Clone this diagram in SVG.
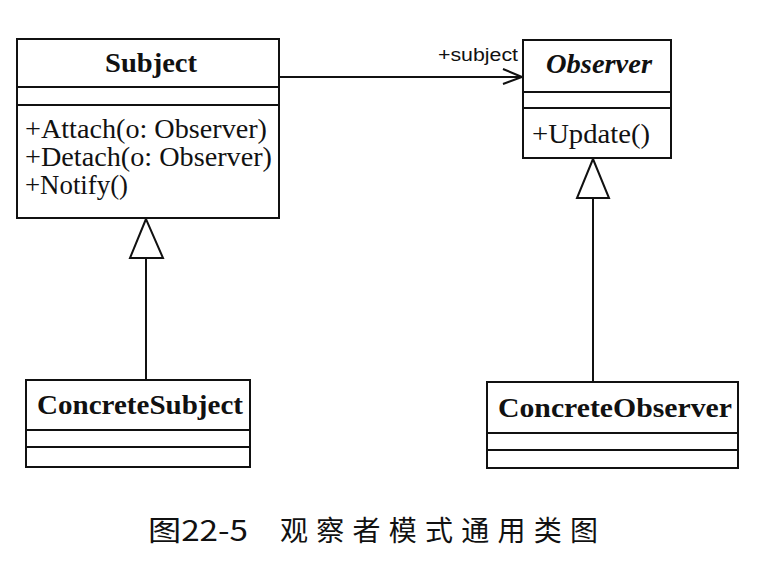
<svg xmlns="http://www.w3.org/2000/svg" width="776" height="586" viewBox="0 0 776 586">
<style>
.box{fill:#fff;stroke:#111;stroke-width:2}
.div{stroke:#111;stroke-width:2}
.name{font-family:"Liberation Serif","Times New Roman",serif;font-weight:bold;font-size:27px;fill:#111}
.op{font-family:"Liberation Serif","Times New Roman",serif;font-size:27px;fill:#111}
.lbl{font-family:"Liberation Sans",Arial,sans-serif;font-size:18px;fill:#111}
.cap{font-family:"Noto Sans CJK SC","Liberation Sans",sans-serif;font-size:28px;font-weight:normal;fill:#111}
.edge{fill:none;stroke:#111;stroke-width:2}
</style>
<rect width="776" height="586" fill="#fff"/>
<g id="connectors">
  <line class="edge" x1="279" y1="77" x2="522" y2="77"/>
  <polyline class="edge" points="503,69 522,77 503,84"/>
  <text class="lbl" x="438" y="61" textLength="80" lengthAdjust="spacingAndGlyphs">+subject</text>
  <line class="edge" x1="146" y1="258" x2="146" y2="380"/>
  <polygon class="edge" points="146,219 130,258 163,258" fill="#fff"/>
  <line class="edge" x1="593" y1="198" x2="593" y2="382"/>
  <polygon class="edge" points="593,159 577,198 609,198" fill="#fff"/>
</g>
<g id="Subject">
  <rect class="box" x="17" y="39" width="262" height="179"/>
  <line class="div" x1="17" y1="87" x2="279" y2="87"/>
  <line class="div" x1="17" y1="105" x2="279" y2="105"/>
  <text class="name" x="105" y="72" textLength="92" lengthAdjust="spacingAndGlyphs">Subject</text>
  <text class="op" x="25" y="138" textLength="242" lengthAdjust="spacingAndGlyphs">+Attach(o: Observer)</text>
  <text class="op" x="25" y="166" textLength="247" lengthAdjust="spacingAndGlyphs">+Detach(o: Observer)</text>
  <text class="op" x="25" y="194" textLength="103" lengthAdjust="spacingAndGlyphs">+Notify()</text>
</g>
<g id="Observer">
  <rect class="box" x="523" y="40" width="148" height="118"/>
  <line class="div" x1="523" y1="92" x2="671" y2="92"/>
  <line class="div" x1="523" y1="108" x2="671" y2="108"/>
  <text class="name" x="546" y="73" font-style="italic" textLength="106" lengthAdjust="spacingAndGlyphs">Observer</text>
  <text class="op" x="532" y="143" textLength="118" lengthAdjust="spacingAndGlyphs">+Update()</text>
</g>
<g id="ConcreteSubject">
  <rect class="box" x="26" y="380" width="224" height="87"/>
  <line class="div" x1="26" y1="430" x2="250" y2="430"/>
  <line class="div" x1="26" y1="447" x2="250" y2="447"/>
  <text class="name" x="37" y="414" textLength="206" lengthAdjust="spacingAndGlyphs">ConcreteSubject</text>
</g>
<g id="ConcreteObserver">
  <rect class="box" x="487" y="382" width="251" height="86"/>
  <line class="div" x1="487" y1="433" x2="738" y2="433"/>
  <line class="div" x1="487" y1="450" x2="738" y2="450"/>
  <text class="name" x="498" y="417" textLength="234" lengthAdjust="spacingAndGlyphs">ConcreteObserver</text>
</g>
<g id="caption">
  <text class="cap" x="148" y="541" textLength="100" lengthAdjust="spacingAndGlyphs">图22-5</text>
  <text class="cap" x="280" y="541" textLength="318" lengthAdjust="spacing">观察者模式通用类图</text>
</g>
</svg>
